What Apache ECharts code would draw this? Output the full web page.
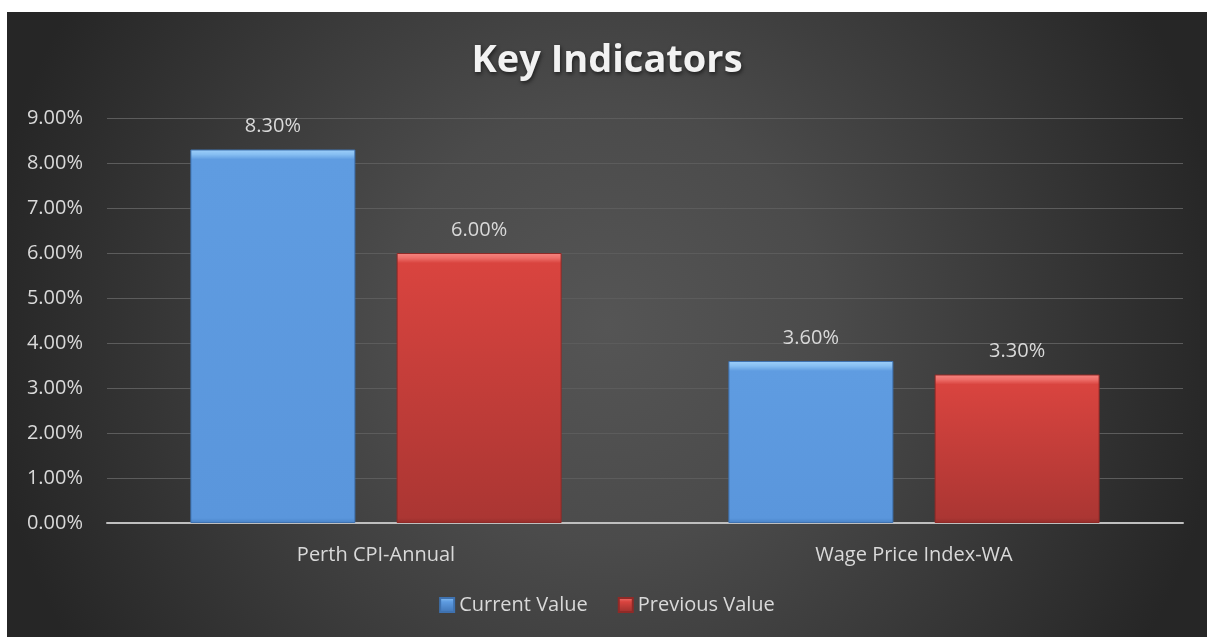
<!DOCTYPE html>
<html>
<head>
<meta charset="utf-8">
<script src="https://cdn.jsdelivr.net/npm/echarts@6/dist/echarts.min.js"></script>
<style>
  html, body { margin: 0; padding: 0; background: #ffffff; width: 1207px; height: 637px; overflow: hidden; }
  #chart { position: absolute; left: 7px; top: 12px; width: 1200px; height: 625px; }
</style>
</head>
<body>
<div id="chart"></div>
<script>
const categories = ['Perth CPI-Annual', 'Wage Price Index-WA'];
const seriesNames = ['Current Value', 'Previous Value'];
const currentValues = [8.30, 3.60];
const previousValues = [6.00, 3.30];
const yTicks = { min: 0, max: 9, interval: 1 };

const FONT = '"Open Sans", "Noto Sans", sans-serif';
const LABEL = '#d9d9d9';

function lg(stops) {
  return new echarts.graphic.LinearGradient(0, 0, 0, 1, stops.map(s => ({ offset: s[0], color: s[1] })));
}
// bevel band fraction depends on bar pixel height (approx. plot height 405px)
function blueFill(v) {
  const b = Math.min(0.3, 10 / (v / yTicks.max * 405));
  return lg([[0, '#9fd0fa'], [b * 0.5, '#86bef2'], [b, '#5f9ce1'], [1 - b * 0.5, '#5a96dc'], [1, '#4a84c8']]);
}
function redFill(v) {
  const b = Math.min(0.3, 10 / (v / yTicks.max * 405));
  return lg([[0, '#f68681'], [b * 0.5, '#ee6e69'], [b, '#d9443f'], [1 - b * 0.5, '#ab3633'], [1, '#952e2b']]);
}

const chart = echarts.init(document.getElementById('chart'), null, { renderer: 'canvas' });

const option = {
  animation: false,
  backgroundColor: new echarts.graphic.RadialGradient(0.5, 0.5, 1.0, [
    { offset: 0, color: '#555555' },
    { offset: 0.35, color: '#4b4b4b' },
    { offset: 1, color: '#262626' }
  ]),
  title: {
    text: 'Key Indicators',
    left: 'center',
    top: 25,
    textStyle: {
      fontFamily: FONT,
      fontWeight: 'bold',
      fontSize: 38,
      color: '#f2f2f2',
      textShadowColor: 'rgba(0,0,0,0.6)',
      textShadowBlur: 4,
      textShadowOffsetX: 1,
      textShadowOffsetY: 2
    }
  },
  legend: {
    data: seriesNames,
    bottom: 17,
    left: 'center',
    icon: 'rect',
    itemWidth: 14,
    itemHeight: 14,
    itemGap: 30,
    textStyle: { fontFamily: FONT, fontSize: 20, color: LABEL }
  },
  grid: { left: 100, right: 24, top: 106, bottom: 114 },
  xAxis: {
    type: 'category',
    data: categories,
    axisTick: { show: false },
    axisLine: { lineStyle: { color: '#bfbfbf', width: 2 } },
    axisLabel: { fontFamily: FONT, fontSize: 20, color: LABEL, margin: 22 }
  },
  yAxis: {
    type: 'value',
    min: yTicks.min,
    max: yTicks.max,
    interval: yTicks.interval,
    axisLine: { show: false },
    axisTick: { show: false },
    splitLine: { lineStyle: { color: '#5c5c5c', width: 1 } },
    axisLabel: {
      fontFamily: FONT, fontSize: 20, color: LABEL, margin: 24,
      formatter: v => v.toFixed(2) + '%'
    }
  },
  series: [
    {
      name: seriesNames[0],
      type: 'bar',
      barCategoryGap: '31%',
      barGap: '25%',
      itemStyle: { color: lg([[0, '#8ec4f6'], [0.3, '#5e9be0'], [1, '#3f74b5']]), borderColor: '#3f72b0', borderWidth: 1 },
      label: {
        show: true, position: 'top', distance: 13,
        fontFamily: FONT, fontSize: 20, color: LABEL,
        formatter: p => p.value.toFixed(2) + '%'
      },
      data: currentValues.map(v => ({ value: v, itemStyle: { color: blueFill(v) } }))
    },
    {
      name: seriesNames[1],
      type: 'bar',
      itemStyle: { color: lg([[0, '#f27c77'], [0.3, '#d9443f'], [1, '#9a2f2c']]), borderColor: '#8f2a27', borderWidth: 1 },
      label: {
        show: true, position: 'top', distance: 13,
        fontFamily: FONT, fontSize: 20, color: LABEL,
        formatter: p => p.value.toFixed(2) + '%'
      },
      data: previousValues.map(v => ({ value: v, itemStyle: { color: redFill(v) } }))
    }
  ]
};

chart.setOption(option);
</script>
</body>
</html>
